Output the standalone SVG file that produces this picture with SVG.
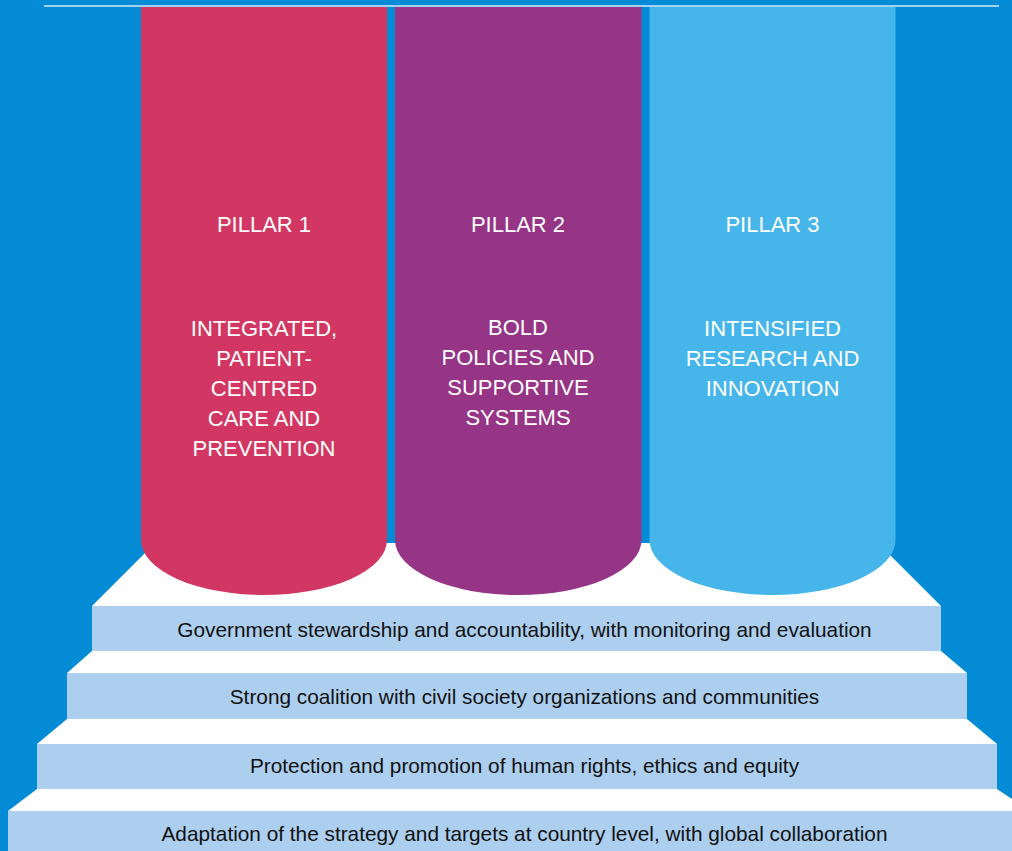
<svg xmlns="http://www.w3.org/2000/svg" width="1012" height="851" viewBox="0 0 1012 851">
<style>
.top{fill:#ffffff}
.front{fill:#accff0}
.plabel{font-family:"Liberation Sans",Arial,sans-serif;font-size:22px;fill:#ffffff;text-anchor:middle}
.slabel{font-family:"Liberation Sans",Arial,sans-serif;font-size:20.8px;fill:#111111;text-anchor:middle}
</style>
<rect x="0" y="0" width="1012" height="851" fill="#038cd5"/>
<line x1="44" y1="6" x2="999" y2="6" stroke="#a0d1ef" stroke-width="2"/>
<g id="steps">
<g id="step1">
<polygon class="top" points="155,543 878,543 941,606 92,606"/>
<rect class="front" x="92" y="606" width="849" height="45"/>
<text class="slabel" x="524.5" y="637">Government stewardship and accountability, with monitoring and evaluation</text>
</g>
<g id="step2">
<polygon class="top" points="92,651 941,651 967,673 67,673"/>
<rect class="front" x="67" y="673" width="900" height="46"/>
<text class="slabel" x="524.5" y="703.5">Strong coalition with civil society organizations and communities</text>
</g>
<g id="step3">
<polygon class="top" points="67,719 967,719 997,744 37,744"/>
<rect class="front" x="37" y="744" width="960" height="45"/>
<text class="slabel" x="524.5" y="773">Protection and promotion of human rights, ethics and equity</text>
</g>
<g id="step4">
<polygon class="top" points="37,789 997,789 1030,811 8,811"/>
<rect class="front" x="8" y="811" width="1010" height="45"/>
<text class="slabel" x="524.5" y="841">Adaptation of the strategy and targets at country level, with global collaboration</text>
</g>
</g>
<g id="pillar1">
<path d="M141,7 V540 A123,55 0 0 0 387,540 V7 Z" fill="#d23763"/>
<text class="plabel" x="264" y="232">PILLAR 1</text>
<text class="plabel" x="264" y="336">INTEGRATED,</text>
<text class="plabel" x="264" y="366">PATIENT-</text>
<text class="plabel" x="264" y="396">CENTRED</text>
<text class="plabel" x="264" y="426">CARE AND</text>
<text class="plabel" x="264" y="456">PREVENTION</text>
</g>
<g id="pillar2">
<path d="M395,7 V540 A123,55 0 0 0 641.5,540 V7 Z" fill="#963486"/>
<text class="plabel" x="518" y="232">PILLAR 2</text>
<text class="plabel" x="518" y="335">BOLD</text>
<text class="plabel" x="518" y="365">POLICIES AND</text>
<text class="plabel" x="518" y="395">SUPPORTIVE</text>
<text class="plabel" x="518" y="425">SYSTEMS</text>
</g>
<g id="pillar3">
<path d="M649.5,7 V540 A123,55 0 0 0 895.5,540 V7 Z" fill="#46b6ea"/>
<text class="plabel" x="772.5" y="232">PILLAR 3</text>
<text class="plabel" x="772.5" y="336">INTENSIFIED</text>
<text class="plabel" x="772.5" y="366">RESEARCH AND</text>
<text class="plabel" x="772.5" y="396">INNOVATION</text>
</g>
<g id="connectors"></g>
</svg>
